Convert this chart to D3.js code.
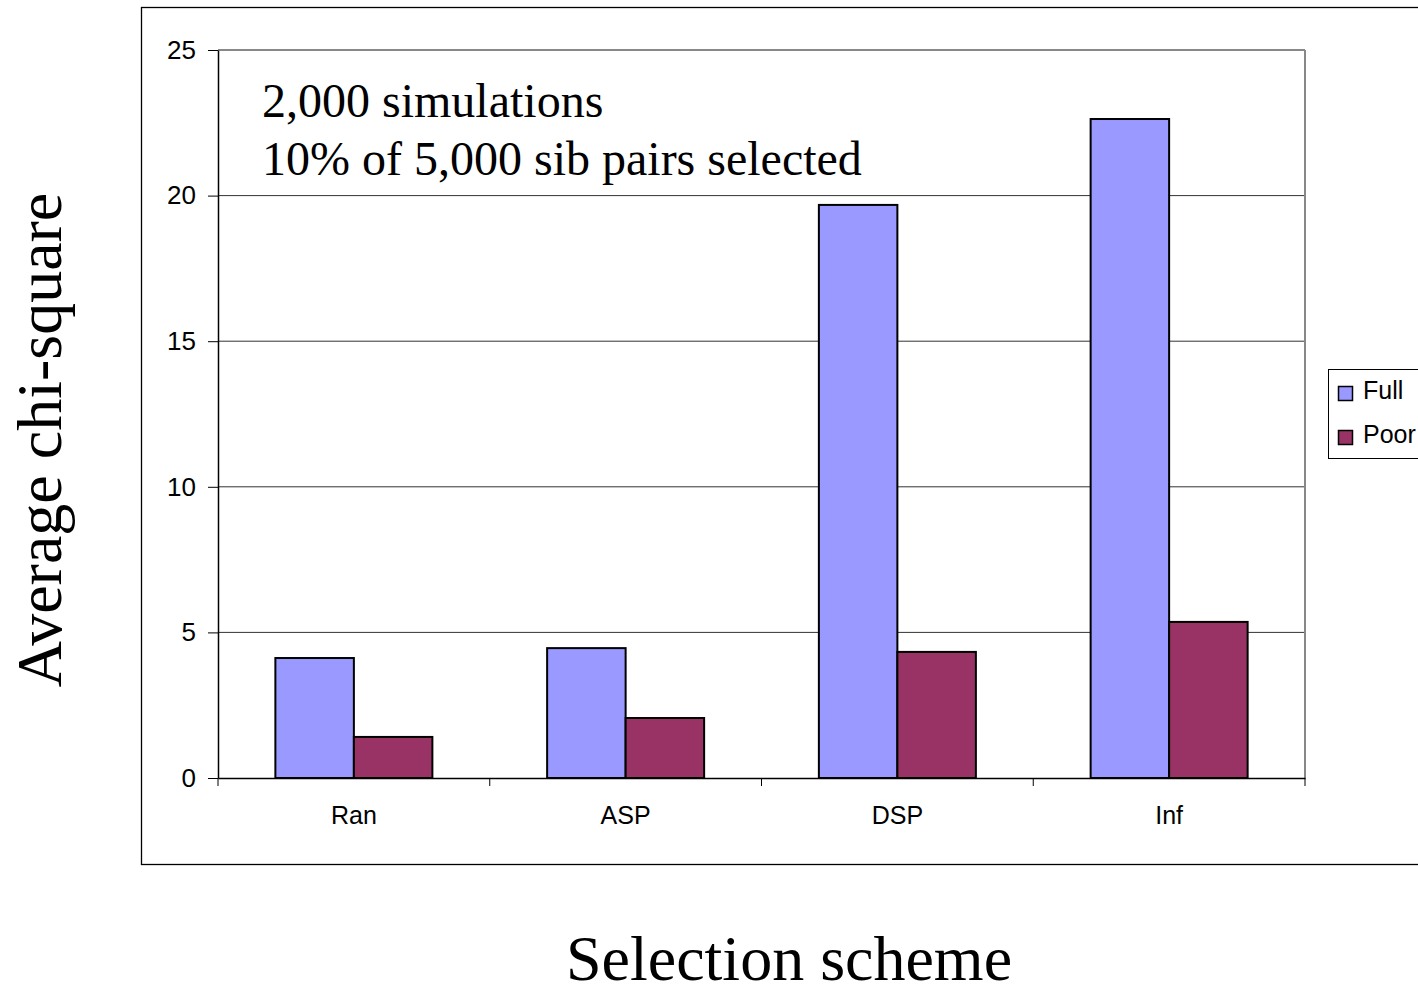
<!DOCTYPE html>
<html><head><meta charset="utf-8">
<script src="https://cdn.jsdelivr.net/npm/d3@7"></script>
<style>body{margin:0;background:#fff;overflow:hidden}</style>
</head><body>
<svg id="c" width="1418" height="985"></svg>
<script>
const categories = ["Ran", "ASP", "DSP", "Inf"];
const seriesNames = ["Full", "Poor"];
const fullValues = [4.12, 4.46, 19.68, 22.63];
const poorValues = [1.41, 2.06, 4.33, 5.36];
const yTicks = [0, 5, 10, 15, 20, 25];
const colors = ["#9999FF", "#993366"];

const svg = d3.select("#c");
const L = 218, R = 1305, T = 50, B = 778;

// outer chart box
svg.append("rect").attr("x", 141.5).attr("y", 7.5).attr("width", 1400).attr("height", 857)
  .attr("fill", "#fff").attr("stroke", "#000").attr("stroke-width", 1.3);

const x = d3.scaleBand().domain(categories).range([L, R]).paddingInner(0).paddingOuter(0);
const y = d3.scaleLinear().domain([0, 25]).range([B, T]);

// gridlines
svg.append("g").selectAll("line").data(yTicks.filter(d => d > 0 && d < 25)).join("line")
  .attr("x1", L).attr("x2", R).attr("y1", d => y(d)).attr("y2", d => y(d))
  .attr("stroke", "#333").attr("stroke-width", 1);

// plot border top / right
svg.append("line").attr("x1", L).attr("x2", R).attr("y1", T).attr("y2", T).attr("stroke", "#888").attr("stroke-width", 2);
svg.append("line").attr("x1", R).attr("x2", R).attr("y1", T).attr("y2", B).attr("stroke", "#888").attr("stroke-width", 2);

// bars
const groupW = 157;
const x1 = d3.scaleBand().domain(seriesNames).range([0, groupW]);
const data = categories.map((c, i) => ({c, vals: [fullValues[i], poorValues[i]]}));
const g = svg.append("g");
data.forEach(d => {
  const gx = x(d.c) + (x.bandwidth() - groupW) / 2;
  d.vals.forEach((v, j) => {
    g.append("rect").attr("x", gx + x1(seriesNames[j])).attr("y", y(v))
      .attr("width", x1.bandwidth()).attr("height", y(0) - y(v))
      .attr("fill", colors[j]).attr("stroke", "#000").attr("stroke-width", 2);
  });
});

// y axis
const yAxis = d3.axisLeft(y).tickValues(yTicks).tickSize(10).tickPadding(12).tickSizeOuter(0);
const ya = svg.append("g").attr("transform", `translate(${L},0)`).call(yAxis);
ya.select(".domain").attr("stroke", "#000").attr("stroke-width", 1.5);
ya.selectAll(".tick line").attr("stroke", "#000");
ya.selectAll("text").attr("font-family", "Liberation Sans, Arial").attr("font-size", 26).attr("fill", "#000");

// x axis
const xAxis = d3.axisBottom(x).tickSize(0).tickPadding(28).tickSizeOuter(0);
const xa = svg.append("g").attr("transform", `translate(0,${B})`).call(xAxis);
xa.select(".domain").attr("stroke", "#000").attr("stroke-width", 1.5);
xa.selectAll("text").attr("font-family", "Liberation Sans, Arial").attr("font-size", 25).attr("fill", "#000");
// category boundary ticks
const bounds = categories.map(c => x(c)).concat([R]);
svg.append("g").selectAll("line").data(bounds).join("line")
  .attr("x1", d => d).attr("x2", d => d).attr("y1", B).attr("y2", B + 8)
  .attr("stroke", "#000").attr("stroke-width", 1);

// annotation
svg.append("text").attr("x", 262).attr("y", 117).text("2,000 simulations")
  .attr("font-family", "Liberation Serif, Times New Roman").attr("font-size", 48);
svg.append("text").attr("x", 262).attr("y", 175).text("10% of 5,000 sib pairs selected")
  .attr("font-family", "Liberation Serif, Times New Roman").attr("font-size", 48);

// axis titles
svg.append("text").attr("transform", "translate(61,440) rotate(-90)").attr("text-anchor", "middle")
  .text("Average chi-square").attr("font-family", "Liberation Serif, Times New Roman").attr("font-size", 64);
svg.append("text").attr("x", 789).attr("y", 980).attr("text-anchor", "middle")
  .text("Selection scheme").attr("font-family", "Liberation Serif, Times New Roman").attr("font-size", 64);

// legend
svg.append("rect").attr("x", 1328.5).attr("y", 369.5).attr("width", 120).attr("height", 89)
  .attr("fill", "#fff").attr("stroke", "#000").attr("stroke-width", 1);
seriesNames.forEach((s, i) => {
  const yy = 386 + i * 44;
  svg.append("rect").attr("x", 1338.5).attr("y", yy + 0.5).attr("width", 14).attr("height", 14)
    .attr("fill", colors[i]).attr("stroke", "#000").attr("stroke-width", 1.5);
  svg.append("text").attr("x", 1363).attr("y", yy + 13).text(s)
    .attr("font-family", "Liberation Sans, Arial").attr("font-size", 25);
});
</script>
</body></html>
